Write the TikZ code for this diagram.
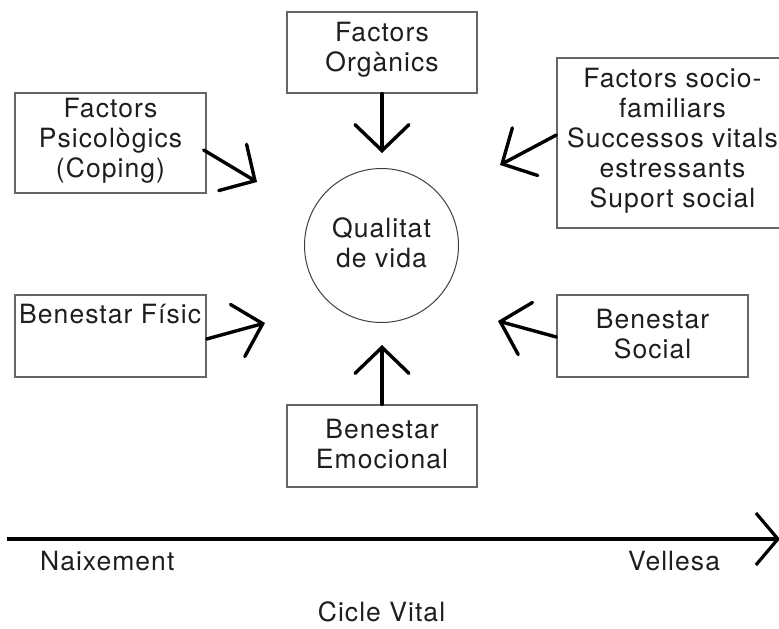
\documentclass[tikz,border=0pt]{standalone}
\usepackage{fontspec}
\setmainfont[LetterSpace=4]{TeX Gyre Heros}
\usetikzlibrary{arrows.meta,calc}
\definecolor{boxline}{HTML}{666666}
\definecolor{txt}{HTML}{1E1E1E}
\tikzset{
  box/.style={draw=boxline, line width=1.3pt, rectangle, inner sep=0pt},
  lbl/.style={text=txt, font=\fontsize{26.5}{30}\selectfont, align=center, inner sep=0pt},
  arr/.style={line width=3.4pt, draw=black, line cap=round,
    -{Straight Barb[length=26pt,width=54pt,line cap=round]}},
  timearr/.style={line width=3.2pt, draw=black,
    -{Straight Barb[length=22pt,width=52pt]}}
}
\begin{document}
\begin{tikzpicture}[x=1pt,y=-1pt]
\useasboundingbox (0,0) rectangle (779,629);
% circle
\node[draw=black!75, line width=1pt, circle, minimum size=154pt, inner sep=0pt] (q) at (381.5,245.5) {};
\node[lbl] (qt) at (381.5,243) {Qualitat\\de vida};
% boxes
\node[box, minimum width=190pt, minimum height=81pt] (org) at (382,52.5) {};
\node[lbl] (orgt) at (382,50) {Factors\\Orgànics};
\node[box, minimum width=191pt, minimum height=100pt] (psi) at (110.5,143) {};
\node[lbl] (psit) at (110.5,141) {Factors\\Psicològics\\(Coping)};
\node[box, minimum width=231pt, minimum height=170pt] (soc) at (672.5,143) {};
\node[lbl] (soct) at (672.5,141) {Factors socio-\\familiars\\Successos vitals\\estressants\\Suport social};
\node[box, minimum width=191pt, minimum height=82pt] (fis) at (110.5,336) {};
\node[lbl, anchor=base west] (fist) at (19,323) {Benestar Físic};
\node[box, minimum width=191pt, minimum height=82pt] (socl) at (652.5,336) {};
\node[lbl] (soclt) at (652.5,334) {Benestar\\Social};
\node[box, minimum width=190pt, minimum height=82pt] (emo) at (382,446) {};
\node[lbl] (emot) at (382,444) {Benestar\\Emocional};
% arrow tips
\coordinate (torg) at (382,153);
\coordinate (tpsi) at (257,182);
\coordinate (tsoc) at (500,165);
\coordinate (tfis) at (265,323);
\coordinate (tsocl) at (498,321);
\coordinate (temo) at (382,345);
\draw[arr] (org.south) -- (torg);
\draw[arr] ($(psi.east)+(-3,7)$) -- (tpsi);
\draw[arr] ($(soc.west)+(0,-8)$) -- (tsoc);
\draw[arr] ($(fis.east)+(0,3)$) -- (tfis);
\draw[arr] ($(socl.west)+(0,1)$) -- (tsocl);
\draw[arr] (emo.north) -- (temo);
% timeline
\coordinate (t0) at (7,539);
\coordinate (t1) at (780,539);
\draw[timearr] (t0) -- (t1);
\node[lbl, anchor=base west] (nx) at (40,570) {Naixement};
\node[lbl, anchor=base west] (vl) at (628,570) {Vellesa};
\node[lbl, anchor=base] (cv) at (381.5,621) {Cicle Vital};
\end{tikzpicture}
\end{document}
